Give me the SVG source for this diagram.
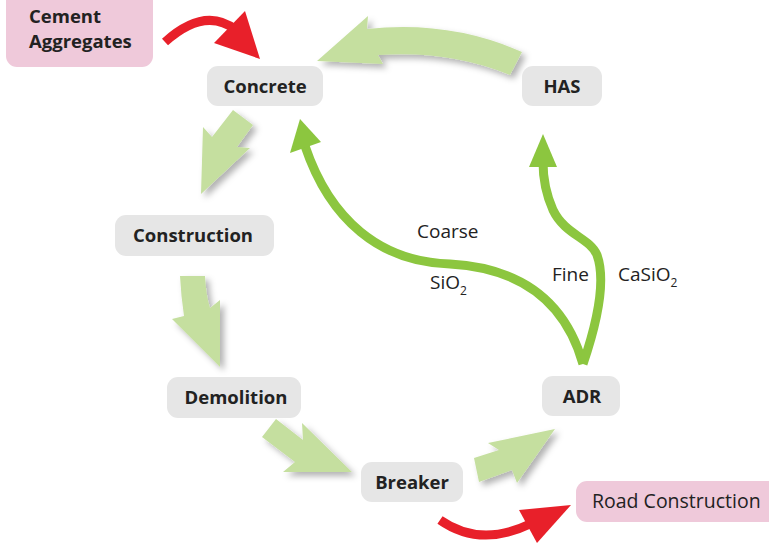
<svg xmlns="http://www.w3.org/2000/svg" width="769" height="548" viewBox="0 0 769 548">
<defs>
<filter id="sh" x="-30%" y="-30%" width="160%" height="160%">
<feDropShadow dx="4" dy="4" stdDeviation="3" flood-color="#000" flood-opacity="0.3"/>
</filter>
</defs>
<style>
.node{fill:#e6e6e6}
.pink{fill:#efc9da}
.lbl{font-family:"Open Sans","Liberation Sans",sans-serif;font-size:18.5px;font-weight:bold;fill:#222;text-anchor:middle}
.reg{font-family:"Open Sans","Liberation Sans",sans-serif;font-size:19px;fill:#222}
.flow{fill:#c5df9f;filter:url(#sh)}
.dg{fill:none;stroke:#8cc63f;stroke-width:9}
.dgh{fill:#8cc63f}
.red{fill:none;stroke:#e8202a;stroke-width:9}
.redh{fill:#e8202a}
</style>
<rect width="769" height="548" fill="#fff"/>
<g id="connectors">
<path class="flow" d="M522,52 Q450,20 367,29 L368,16 L317,61 L383,64 L378,55 Q450,50 510,75 Z"/>
<path class="flow" d="M233,110 L253,125 L237,147 L250,148 L201,194 L203,127 L212,137 Z"/>
<path class="flow" d="M180,276 L205,276 Q206,295 210,308 L220,300 L220,367 L172,319 L184,316 Q181,296 180,276 Z"/>
<path class="flow" d="M262,437 L276,419 L303,440 L302,423 L352,472 L283,472 L295,462 Z"/>
<path class="flow" d="M474,458 L499,450 L488,443 L555,429 L517,483 L512,470 L479,482 Z"/>
<path class="dg" d="M583,364 C565,300 520,268 450,264 C380,262 330,220 305,146"/>
<polygon class="dgh" points="300,119 290,153 321,142"/>
<path class="dg" d="M583,364 C598,320 606,280 597,255 C590,238 565,235 553,210 C545,192 543,175 543,162"/>
<polygon class="dgh" points="543,134 529,167 557,167"/>
<path class="red" d="M165,42 Q205,6 236,30"/>
<polygon class="redh" points="245,11 260,59 214,43"/>
<path class="red" d="M440,520 Q480,548 530,524"/>
<polygon class="redh" points="519,510 571,505 537,543"/>
</g>
<g id="cement">
<rect class="pink" x="6" y="-10" width="147" height="77" rx="11"/>
<text class="lbl" x="29" y="23" style="text-anchor:start">Cement</text>
<text class="lbl" x="29" y="48" style="text-anchor:start">Aggregates</text>
</g>
<g id="concrete">
<rect class="node" x="207" y="66" width="116" height="40" rx="11"/>
<text class="lbl" x="265" y="93">Concrete</text>
</g>
<g id="has">
<rect class="node" x="522" y="66" width="80" height="40" rx="11"/>
<text class="lbl" x="562" y="93">HAS</text>
</g>
<g id="construction">
<rect class="node" x="115" y="215" width="159" height="41" rx="11"/>
<text class="lbl" x="193" y="242">Construction</text>
</g>
<g id="demolition">
<rect class="node" x="167" y="377" width="134" height="41" rx="11"/>
<text class="lbl" x="236" y="404">Demolition</text>
</g>
<g id="breaker">
<rect class="node" x="361" y="462" width="102" height="40" rx="11"/>
<text class="lbl" x="412" y="489">Breaker</text>
</g>
<g id="adr">
<rect class="node" x="542" y="376" width="78" height="40" rx="11"/>
<text class="lbl" x="582" y="403">ADR</text>
</g>
<g id="road">
<rect class="pink" x="576" y="481" width="205" height="41" rx="11"/>
<text class="reg" x="592" y="508" style="font-size:19.5px">Road Construction</text>
</g>
<g id="labels">
<text class="reg" x="417" y="238">Coarse</text>
<text class="reg" x="430" y="289">SiO<tspan font-size="12" dy="6">2</tspan></text>
<text class="reg" x="552" y="281">Fine</text>
<text class="reg" x="618" y="281">CaSiO<tspan font-size="12" dy="6">2</tspan></text>
</g>
</svg>
